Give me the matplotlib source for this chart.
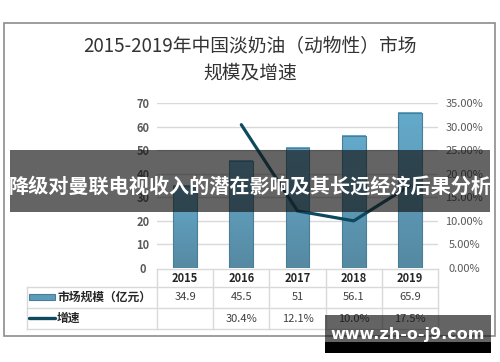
import numpy as np
import matplotlib.pyplot as plt
from matplotlib.patches import Rectangle
from matplotlib.colors import LinearSegmentedColormap

plt.rcParams['font.family'] = ['Noto Sans CJK SC', 'DejaVu Sans']

years = ['2015', '2016', '2017', '2018', '2019']
market_size = [34.9, 45.5, 51, 56.1, 65.9]
growth = [np.nan, 30.4, 12.1, 10.0, 17.5]
size_labels = ['34.9', '45.5', '51', '56.1', '65.9']
growth_labels = ['', '30.4%', '12.1%', '10.0%', '17.5%']
left_ticks = [0, 10, 20, 30, 40, 50, 60, 70]
right_ticks = [0, 5, 10, 15, 20, 25, 30, 35]

title_lines = ['2015-2019年中国淡奶油（动物性）市场', '规模及增速']
legend_labels = ['市场规模（亿元）', '增速']
banner = '降级对曼联电视收入的潜在影响及其长远经济后果分析'
watermark = 'www.zh-o-j9.com'

bar_top, bar_bottom, bar_edge = '#64aacb', '#5689a2', '#4a7d96'
line_color = '#0e4a5e'
grid_color = '#d9d9d9'
text_color = '#404040'

W, H = 500, 362
fig = plt.figure(figsize=(W / 100, H / 100), dpi=100)

# pixel layout of the plot area / table
x0, x1 = 157, 438
y_top, y_zero = 103, 268
col_w = (x1 - x0) / len(years)
row_y = [269, 287, 308, 329]
tab_left = 27

# background layer: frame, title, table
bg = fig.add_axes([0, 0, 1, 1], zorder=0)
bg.set_xlim(0, W)
bg.set_ylim(H, 0)
bg.axis('off')
bg.add_patch(Rectangle((4, 23), 491, 313, fill=False, ec='#8c8c8c', lw=1.2))
bg.text(250, 47, title_lines[0], ha='center', va='center', fontsize=13.5, color='#333333')
bg.text(250, 73, title_lines[1], ha='center', va='center', fontsize=13.5, color='#333333')

kw = dict(color=grid_color, lw=1)
bg.plot([x0, x1], [row_y[0]] * 2, **kw)
for yy in row_y[1:]:
    bg.plot([tab_left, x1], [yy] * 2, **kw)
bg.plot([tab_left, tab_left], [row_y[1], row_y[3]], **kw)
for i in range(len(years) + 1):
    xx = x0 + i * col_w
    bg.plot([xx, xx], [row_y[0], row_y[3]], **kw)

for i, yr in enumerate(years):
    cx = x0 + (i + 0.5) * col_w
    bg.text(cx, (row_y[0] + row_y[1]) / 2, yr, ha='center', va='center',
            fontsize=8, color='#262626', fontweight='bold')
    bg.text(cx, (row_y[1] + row_y[2]) / 2, size_labels[i], ha='center', va='center',
            fontsize=8, color=text_color)
    bg.text(cx, (row_y[2] + row_y[3]) / 2, growth_labels[i], ha='center', va='center',
            fontsize=8, color=text_color)

# table legend keys
bg.add_patch(Rectangle((29, 294), 26, 6, fc='#5c9cbb', ec=bar_edge, lw=0.8))
bg.text(57, (row_y[1] + row_y[2]) / 2, legend_labels[0], ha='left', va='center',
        fontsize=8.5, color='#262626', fontweight='bold')
bg.plot([29, 55], [318, 318], color=line_color, lw=2.4, solid_capstyle='round')
bg.text(57, (row_y[2] + row_y[3]) / 2, legend_labels[1], ha='left', va='center',
        fontsize=8.5, color='#262626', fontweight='bold')

# chart
ax = fig.add_axes([x0 / W, 1 - y_zero / H, (x1 - x0) / W, (y_zero - y_top) / H], zorder=1)
ax.patch.set_alpha(0)
xs = np.arange(len(years))
ax.set_xlim(-0.5, len(years) - 0.5)
ax.set_ylim(0, 70)
ax.set_yticks(left_ticks)
for t in left_ticks[1:]:
    ax.axhline(t, color=grid_color, lw=1, zorder=0)

cmap = LinearSegmentedColormap.from_list('bar', [bar_bottom, bar_top])
grad = np.linspace(0, 1, 100).reshape(-1, 1)
bw = 0.42
for x, v in zip(xs, market_size):
    ax.imshow(grad, extent=[x - bw / 2, x + bw / 2, 0, v], origin='lower',
              aspect='auto', cmap=cmap, zorder=2)
    ax.add_patch(Rectangle((x - bw / 2, 0), bw, v, fill=False, ec=bar_edge, lw=0.8, zorder=3))
ax.set_xlim(-0.5, len(years) - 0.5)
ax.set_ylim(0, 70)

ax.set_xticks([])
for s in ax.spines.values():
    s.set_visible(False)
ax.tick_params(axis='y', length=0, pad=10, labelsize=8, labelcolor='#595959')
for lab in ax.get_yticklabels():
    lab.set_horizontalalignment('center')
    lab.set_fontweight('bold')

ax2 = ax.twinx()
ax2.plot(xs, growth, color=line_color, lw=2.3, zorder=4, solid_capstyle='round')
ax2.set_ylim(0, 35)
ax2.set_yticks(right_ticks)
ax2.set_yticklabels([f'{t:.2f}%' for t in right_ticks])
for s in ax2.spines.values():
    s.set_visible(False)
ax2.tick_params(axis='y', length=0, pad=19, labelsize=8, labelcolor='#595959')
for lab in ax2.get_yticklabels():
    lab.set_horizontalalignment('center')

# overlay: banner and watermark
top = fig.add_axes([0, 0, 1, 1], zorder=5)
top.set_xlim(0, W)
top.set_ylim(H, 0)
top.axis('off')
top.patch.set_alpha(0)
top.add_patch(Rectangle((10, 150), 480, 62, fc='#141414', alpha=0.66, lw=0))
top.text(250, 186, banner, ha='center', va='center', fontsize=14.5,
         color='white', fontweight='bold')
top.add_patch(Rectangle((325, 315), 166, 27, fc='#141414', alpha=0.66, lw=0))
top.add_patch(Rectangle((325, 342), 166, 11, fc='black', lw=0))
top.text(408, 335, watermark, ha='center', va='center', fontsize=11.5,
         color='white', fontweight='bold', family='DejaVu Sans')

fig.savefig('out.png', dpi=100)
